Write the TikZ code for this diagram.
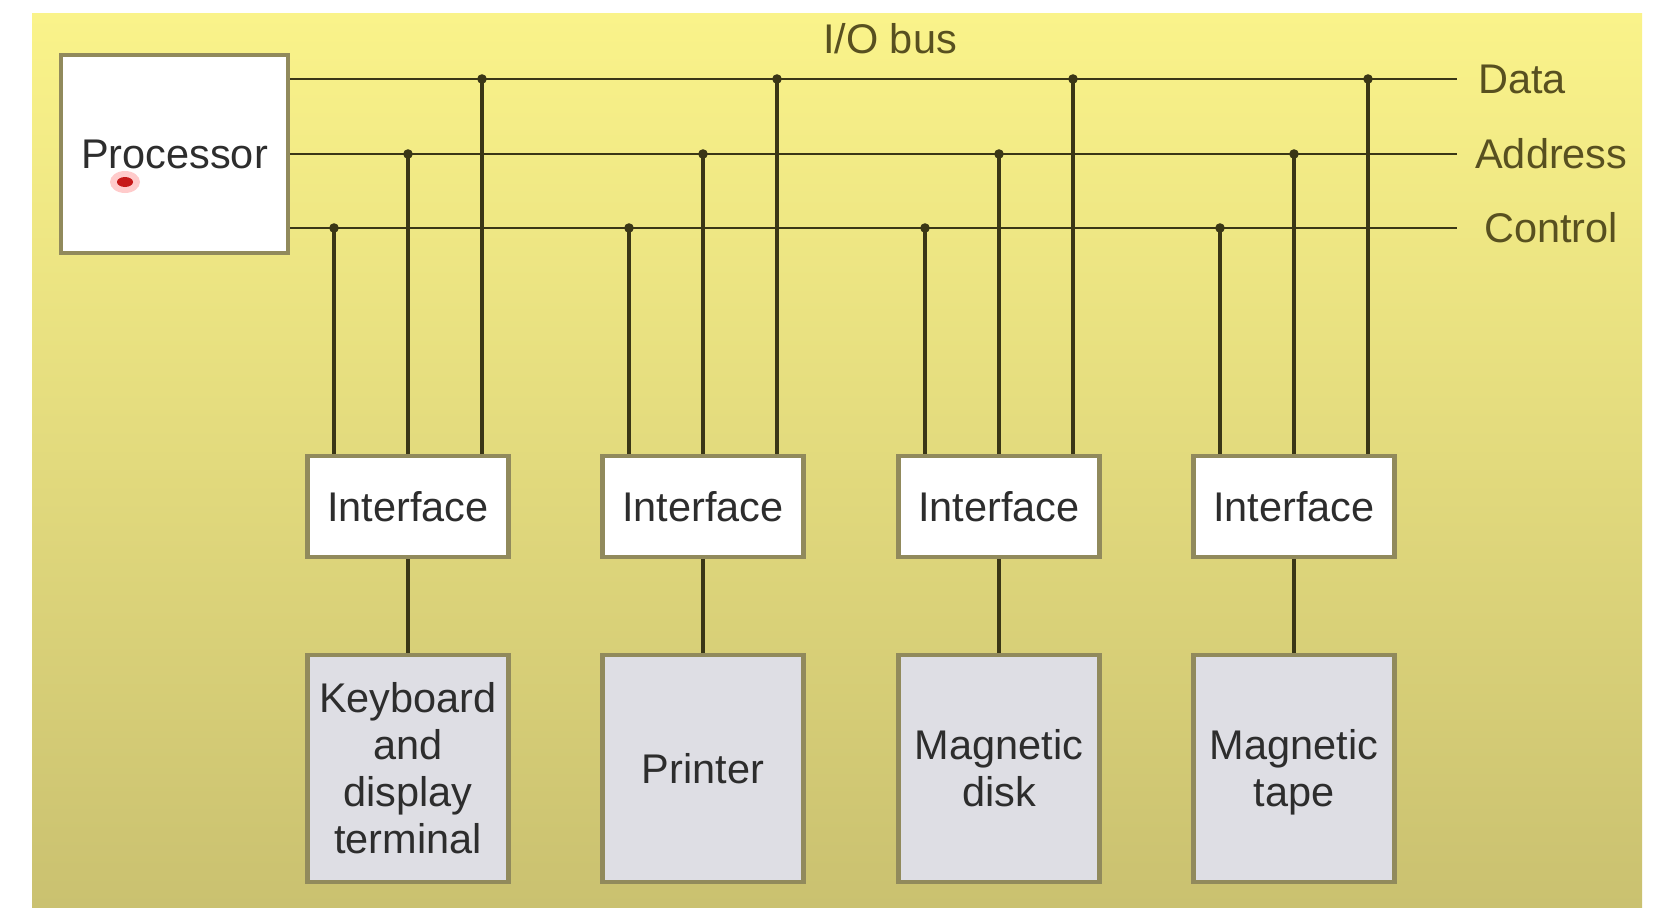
\documentclass[tikz,border=0pt]{standalone}
\usepackage{fontspec}
\setmainfont{Liberation Sans}
\definecolor{bgtop}{RGB}{250,243,138}
\definecolor{bgbot}{RGB}{202,193,112}
\definecolor{wire}{RGB}{58,54,22}
\definecolor{frame}{RGB}{145,138,92}
\definecolor{devfill}{RGB}{222,222,228}
\definecolor{txt}{RGB}{45,45,45}
\definecolor{labtxt}{RGB}{88,80,32}
\newcommand{\topstrut}{\rule{0pt}{31pt}}
\tikzset{
  bus/.style={draw=wire, line width=2.1pt},
  drop/.style={draw=wire, line width=2.4pt},
  jdot/.style={circle, fill=wire, inner sep=0pt, minimum size=0.24cm},
  boxtext/.style={font=\fontsize{29.5}{33.5}\selectfont, text=txt, align=center},
  procbox/.style={boxtext, draw=frame, line width=3pt, fill=white, minimum width=5.675cm, minimum height=4.95cm, inner sep=0pt},
  ifbox/.style={boxtext, draw=frame, line width=3pt, fill=white, minimum width=5.025cm, minimum height=2.525cm, inner sep=0pt},
  devbox/.style={boxtext, draw=frame, line width=3pt, fill=devfill, minimum width=5.025cm, minimum height=5.675cm, inner sep=0pt},
  buslab/.style={font=\fontsize{29.5}{33.5}\selectfont, text=labtxt, anchor=west, inner sep=0pt}
}
\begin{document}
\begin{tikzpicture}[x=0.025cm,y=-0.025cm]
\useasboundingbox (0,0) rectangle (1656,907);
% background
\fill[white] (0,0) rectangle (1656,907);
\shade[top color=bgtop, bottom color=bgbot] (32,14) rectangle (1642,907);
% processor
\node[procbox] (proc) at (174.5,154) {Processor};
\fill[red!40, opacity=0.5] (125,182) ellipse (15 and 11);
\fill[red!75!black!90] (125,182) ellipse (8 and 5);
% bus right ends
\coordinate (dataR) at (1457,79);
\coordinate (addrR) at (1457,154);
\coordinate (ctrlR) at (1457,228);
\draw[bus] (proc.east |- dataR) -- (dataR);
\draw[bus] (proc.east |- addrR) -- (addrR);
\draw[bus] (proc.east |- ctrlR) -- (ctrlR);
\node[buslab] (datalab) at (1478,79) {Data};
\node[buslab] (addrlab) at (1475,154) {Address};
\node[buslab] (ctrllab) at (1484,228) {Control};
\node[font=\fontsize{29.5}{33.5}\selectfont, text=labtxt, inner sep=0pt] (iobus) at (890,39) {I/O bus};
% columns
\foreach \i/\cx/\dev in {1/408/{\topstrut Keyboard\\and\\display\\terminal\strut}, 2/703/{\topstrut Printer\strut}, 3/999/{\topstrut Magnetic\\disk\strut}, 4/1294/{\topstrut Magnetic\\tape\strut}} {
  \node[ifbox] (if\i) at (\cx,506.5) {Interface};
  \node[devbox] (dev\i) at (\cx,768.5) {\dev};
  \node[jdot] (jc\i) at (\cx-74,228) {};
  \node[jdot] (ja\i) at (\cx,154) {};
  \node[jdot] (jd\i) at (\cx+74,79) {};
  \draw[drop] (jc\i.center) -- (if\i.north -| jc\i);
  \draw[drop] (ja\i.center) -- (if\i.north -| ja\i);
  \draw[drop] (jd\i.center) -- (if\i.north -| jd\i);
  \draw[drop] (if\i.south) -- (dev\i.north);
}
\end{tikzpicture}
\end{document}
